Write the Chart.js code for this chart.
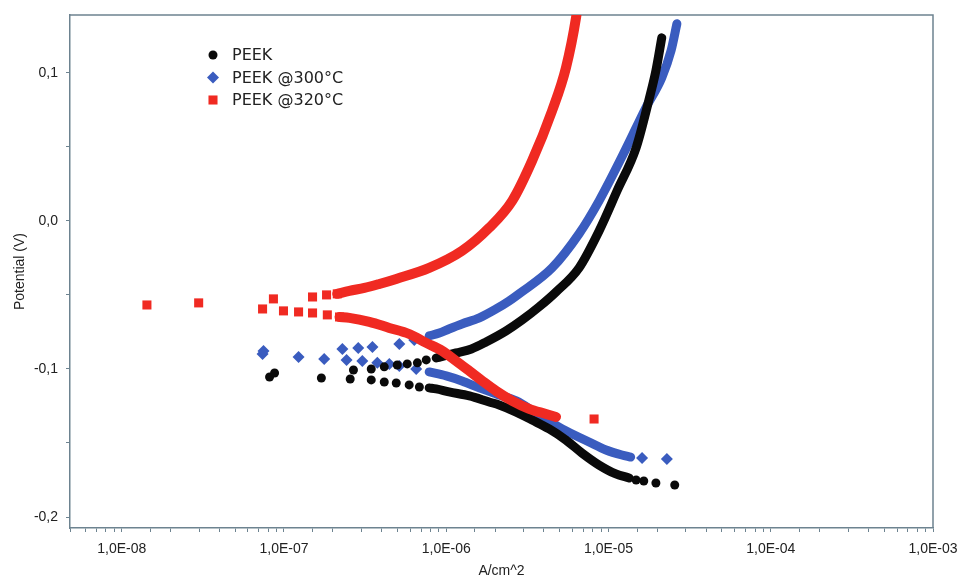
<!DOCTYPE html>
<html>
<head>
<meta charset="utf-8">
<script src="https://cdn.jsdelivr.net/npm/chart.js@4/dist/chart.umd.min.js"></script>
<style>
  html, body { margin: 0; padding: 0; background: #fff; }
  #wrap { width: 964px; height: 584px; }
</style>
</head>
<body>
<div id="wrap"><canvas id="tafel" width="964" height="584"></canvas></div>
<script>
// Tafel curves, current density (A/cm^2) vs potential (V).
// Each curve: loose points around Ecorr + dense cathodic / anodic branches.

const peekLooseI = [8.15e-8, 8.75e-8, 1.70e-7, 2.56e-7, 2.68e-7, 3.45e-7, 3.45e-7, 4.15e-7, 4.15e-7, 4.92e-7, 4.99e-7, 5.91e-7, 5.75e-7, 6.83e-7, 6.64e-7, 7.53e-7, 1.48e-5, 1.65e-5, 1.96e-5, 2.56e-5];
const peekLooseE = [-0.1054, -0.1027, -0.1061, -0.1068, -0.1007, -0.1074, -0.1000, -0.1088, -0.0986, -0.1095, -0.0973, -0.1108, -0.0966, -0.1122, -0.0959, -0.0939, -0.1750, -0.1757, -0.1770, -0.1784];
const peekCathI = [7.85e-7, 8.67e-7, 1.04e-6, 1.39e-6, 1.84e-6, 2.12e-6, 2.70e-6, 3.38e-6, 4.31e-6, 5.47e-6, 6.87e-6, 8.75e-6, 1.11e-5, 1.34e-5];
const peekCathE = [-0.1128, -0.1135, -0.1155, -0.1182, -0.1223, -0.1243, -0.1291, -0.1345, -0.1405, -0.1480, -0.1568, -0.1649, -0.1709, -0.1736];
const peekAnodI = [8.67e-7, 9.73e-7, 1.15e-6, 1.43e-6, 1.76e-6, 2.34e-6, 2.94e-6, 3.73e-6, 4.75e-6, 6.58e-6, 8.75e-6, 1.13e-5, 1.48e-5, 1.77e-5, 1.96e-5, 2.13e-5];
const peekAnodE = [-0.0926, -0.0912, -0.0892, -0.0865, -0.0818, -0.0743, -0.0669, -0.0581, -0.0480, -0.0318, -0.0068, 0.0203, 0.0493, 0.0811, 0.1014, 0.1236];

const p300LooseI = [7.38e-8, 7.48e-8, 1.23e-7, 1.77e-7, 2.29e-7, 2.43e-7, 2.87e-7, 3.04e-7, 3.51e-7, 3.76e-7, 4.46e-7, 5.14e-7, 5.14e-7, 6.35e-7, 6.53e-7, 1.61e-5, 2.29e-5];
const p300LooseE = [-0.0899, -0.0878, -0.0919, -0.0932, -0.0865, -0.0939, -0.0858, -0.0946, -0.0851, -0.0959, -0.0966, -0.0831, -0.0980, -0.0804, -0.1000, -0.1601, -0.1608];
const p300CathI = [7.85e-7, 1.00e-6, 1.25e-6, 1.60e-6, 2.03e-6, 2.70e-6, 3.58e-6, 5.18e-6, 7.59e-6, 9.66e-6, 1.21e-5, 1.37e-5];
const p300CathE = [-0.1020, -0.1047, -0.1081, -0.1128, -0.1169, -0.1216, -0.1297, -0.1405, -0.1493, -0.1547, -0.1581, -0.1595];
const p300AnodI = [7.85e-7, 9.06e-7, 1.04e-6, 1.25e-6, 1.60e-6, 2.03e-6, 2.44e-6, 2.81e-6, 4.49e-6, 6.58e-6, 8.75e-6, 1.28e-5, 1.70e-5, 2.13e-5, 2.43e-5, 2.64e-5];
const p300AnodE = [-0.0777, -0.0757, -0.0730, -0.0696, -0.0655, -0.0595, -0.0541, -0.0493, -0.0318, -0.0088, 0.0135, 0.0486, 0.0764, 0.0966, 0.1149, 0.1331];

const p320LooseI = [1.43e-8, 2.98e-8, 7.38e-8, 8.61e-8, 9.93e-8, 1.23e-7, 1.50e-7, 1.50e-7, 1.83e-7, 1.85e-7, 2.13e-7, 2.20e-7, 8.15e-6];
const p320LooseE = [-0.0568, -0.0554, -0.0595, -0.0527, -0.0608, -0.0615, -0.0514, -0.0622, -0.0500, -0.0635, -0.0493, -0.0649, -0.1338];
const p320CathI = [2.20e-7, 2.53e-7, 3.36e-7, 4.46e-7, 5.91e-7, 7.53e-7, 9.44e-7, 1.15e-6, 1.39e-6, 1.67e-6, 2.03e-6, 2.55e-6, 3.24e-6, 4.12e-6, 4.75e-6];
const p320CathE = [-0.0649, -0.0655, -0.0682, -0.0723, -0.0764, -0.0824, -0.0878, -0.0946, -0.1014, -0.1081, -0.1149, -0.1216, -0.1270, -0.1304, -0.1324];
const p320AnodI = [2.13e-7, 2.53e-7, 3.13e-7, 3.87e-7, 4.92e-7, 7.85e-7, 1.25e-6, 1.84e-6, 2.55e-6, 3.38e-6, 4.49e-6, 5.47e-6, 6.31e-6, 6.45e-6];
const p320AnodE = [-0.0493, -0.0473, -0.0453, -0.0426, -0.0392, -0.0318, -0.0203, -0.0047, 0.0135, 0.0405, 0.0743, 0.1034, 0.1372, 0.1450];

const xTickMin = 4.8e-9;
const xTickMax = 1e-3;
const yTickMin = -0.2074;
const yTickMax = 0.139;

const AXIS = '#6d8390';
const TXT = '#222';

function pts(I, E) {
    return I.map((v, i) => ({ x: v, y: E[i] }));
}

function loose(label, I, E, color, style, r, order) {
    return {
        label: label,
        data: pts(I, E),
        showLine: false,
        pointStyle: style,
        pointRadius: r,
        pointHoverRadius: r,
        pointBorderWidth: 0,
        backgroundColor: color,
        borderColor: color,
        order: order,
        inLegend: true
    };
}

function branch(I, E, color, width, order) {
    return {
        label: '',
        data: pts(I, E),
        showLine: true,
        borderColor: color,
        backgroundColor: color,
        borderWidth: width,
        borderCapStyle: 'round',
        borderJoinStyle: 'round',
        cubicInterpolationMode: 'monotone',
        pointRadius: 0,
        order: order
    };
}

const BLACK = '#0a0a0a', BLUE = '#3a5cbf', RED = '#f02a22';

// top/right frame of the plot
const frame = {
    id: 'frame',
    beforeDatasetsDraw(chart) {
        const { ctx, chartArea: a } = chart;
        ctx.save();
        ctx.strokeStyle = AXIS;
        ctx.lineWidth = 1.5;
        ctx.beginPath();
        ctx.moveTo(a.left, a.top);
        ctx.lineTo(a.right, a.top);
        ctx.lineTo(a.right, a.bottom);
        ctx.stroke();
        ctx.restore();
    }
};

// legend sitting inside the plot, top left
const innerLegend = {
    id: 'innerLegend',
    afterDraw(chart) {
        const ctx = chart.ctx;
        const items = chart.data.datasets.filter(d => d.inLegend);
        ctx.save();
        ctx.font = '16px "DejaVu Sans"';
        ctx.textBaseline = 'middle';
        items.forEach((d, i) => {
            const y = 55 + i * 22.5;
            ctx.fillStyle = d.backgroundColor;
            Chart.helpers.drawPoint(ctx, {
                pointStyle: d.pointStyle,
                radius: d.pointRadius,
                borderWidth: 0,
                rotation: 0
            }, 213, y);
            ctx.fillStyle = '#222';
            ctx.fillText(d.label, 232, y + 1);
        });
        ctx.restore();
    }
};

new Chart(document.getElementById('tafel'), {
    type: 'scatter',
    data: {
        datasets: [
            loose('PEEK', peekLooseI, peekLooseE, BLACK, 'circle', 4.5, 2),
            loose('PEEK @300°C', p300LooseI, p300LooseE, BLUE, 'rectRot', 6, 3),
            loose('PEEK @320°C', p320LooseI, p320LooseE, RED, 'rect', 6.4, 1),
            branch(peekCathI, peekCathE, BLACK, 9, 2),
            branch(peekAnodI, peekAnodE, BLACK, 9, 2),
            branch(p300CathI, p300CathE, BLUE, 9, 3),
            branch(p300AnodI, p300AnodE, BLUE, 9, 3),
            branch(p320CathI, p320CathE, RED, 10, 1),
            branch(p320AnodI, p320AnodE, RED, 10, 1)
        ]
    },
    options: {
        responsive: false,
        animation: false,
        layout: { padding: { left: 0, right: 31, top: 15, bottom: 0 } },
        plugins: {
            legend: { display: false },
            tooltip: { enabled: false }
        },
        scales: {
            x: {
                type: 'logarithmic',
                position: 'bottom',
                min: xTickMin,
                max: xTickMax,
                afterFit(s) { s.height = 56; s.paddingLeft = 0; s.paddingRight = 0; },
                border: { color: AXIS, width: 1.5 },
                grid: { drawOnChartArea: false, tickLength: 4, color: AXIS },
                ticks: {
                    autoSkip: false,
                    maxRotation: 0,
                    padding: 9,
                    color: TXT,
                    font: { family: 'Liberation Sans', size: 14 },
                    callback(v) {
                        const e = Math.log10(v);
                        if (Math.abs(e - Math.round(e)) > 1e-6) return '';
                        const n = Math.round(e);
                        return '1,0E' + (n < 0 ? '-' : '+') + String(Math.abs(n)).padStart(2, '0');
                    }
                },
                title: {
                    display: true,
                    text: 'A/cm^2',
                    color: TXT,
                    font: { family: 'Liberation Sans', size: 14 },
                    padding: { top: 0, bottom: 4 }
                }
            },
            y: {
                type: 'linear',
                min: yTickMin,
                max: yTickMax,
                afterFit(s) { s.width = 70; s.paddingTop = 0; s.paddingBottom = 0; },
                border: { color: AXIS, width: 1.5 },
                grid: { drawOnChartArea: false, tickLength: 4, color: AXIS },
                ticks: {
                    stepSize: 0.05,
                    includeBounds: false,
                    padding: 8,
                    color: TXT,
                    font: { family: 'Liberation Sans', size: 14 },
                    callback(v) {
                        if (Math.abs(v * 10 - Math.round(v * 10)) > 1e-6) return '';
                        return (Math.round(v * 10) / 10).toFixed(1).replace('.', ',');
                    }
                },
                title: {
                    display: true,
                    text: 'Potential (V)',
                    color: TXT,
                    font: { family: 'Liberation Sans', size: 14 },
                    padding: { top: 12, bottom: 0 }
                }
            }
        }
    },
    plugins: [frame, innerLegend]
});
</script>
</body>
</html>
